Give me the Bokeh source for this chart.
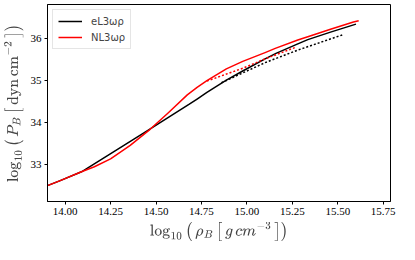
from bokeh.plotting import figure
from bokeh.embed import file_html
from bokeh.resources import INLINE
from bokeh.models import Range1d, FixedTicker, Legend, LegendItem, CustomJSTickFormatter

# eL3wp solid
el3_x = [13.903, 13.973, 14.09, 14.44, 14.681, 14.726, 14.78, 14.887, 14.977, 15.10, 15.16, 15.28, 15.335, 15.46, 15.60]
el3_y = [32.49, 32.61, 32.82, 33.77, 34.43, 34.56, 34.72, 35.01, 35.23, 35.52, 35.65, 35.88, 35.98, 36.16, 36.35]
# eL3wp dotted
el3d_x = [14.86, 15.10, 15.28, 15.53]
el3d_y = [34.95, 35.43, 35.73, 36.10]
# NL3wp solid
nl3_x = [13.903, 13.973, 14.09, 14.161, 14.25, 14.358, 14.44, 14.466, 14.565, 14.672, 14.726, 14.78, 14.887, 14.977, 15.10, 15.156, 15.28, 15.335, 15.46, 15.586, 15.615]
nl3_y = [32.49, 32.61, 32.82, 32.94, 33.13, 33.45, 33.74, 33.83, 34.22, 34.66, 34.84, 35.00, 35.28, 35.46, 35.67, 35.77, 35.97, 36.05, 36.23, 36.40, 36.43]
# NL3wp dotted
nl3d_x = [14.78, 14.98, 15.10, 15.27]
nl3d_y = [34.99, 35.30, 35.52, 35.80]

x_ticks = [14.00, 14.25, 14.50, 14.75, 15.00, 15.25, 15.50, 15.75]
y_ticks = [33, 34, 35, 36]

p = figure(width=399, height=244, output_backend="svg", toolbar_location=None,
           x_range=Range1d(13.903, 15.79), y_range=Range1d(32.11, 36.82),
           min_border_left=39, min_border_right=9, min_border_top=4, min_border_bottom=39)
p.xgrid.visible = False
p.ygrid.visible = False
p.outline_line_color = "black"
p.outline_line_width = 1
p.background_fill_color = "white"

r1 = p.line(el3_x, el3_y, line_color="black", line_width=1.5, line_join="round")
p.line(el3d_x, el3d_y, line_color="black", line_width=1.5, line_dash="2 2")
r2 = p.line(nl3_x, nl3_y, line_color="red", line_width=1.5, line_join="round")
p.line(nl3d_x, nl3d_y, line_color="red", line_width=1.5, line_dash="2 2")

p.xaxis.ticker = FixedTicker(ticks=x_ticks)
p.yaxis.ticker = FixedTicker(ticks=y_ticks)
p.xaxis.formatter = CustomJSTickFormatter(code="return tick.toFixed(2);")
p.yaxis.formatter = CustomJSTickFormatter(code="return tick.toFixed(0);")
for ax in (p.xaxis[0], p.yaxis[0]):
    ax.axis_line_color = "black"
    ax.major_tick_in = 0
    ax.major_tick_out = 3
    ax.minor_tick_line_color = None
    ax.major_tick_line_color = "black"
    ax.major_label_text_font = "Liberation Serif"
    ax.major_label_text_font_size = "11px"
    ax.major_label_text_color = "black"
    ax.major_label_standoff = 3
    ax.axis_label_text_font_size = "12px"
    ax.axis_label_text_font_style = "normal"
    ax.axis_label_standoff = 4

p.xaxis.axis_label = r"$$\log_{10}\left(\,\rho_B\left[\,g\,cm^{-3}\,\right]\right)$$"
p.yaxis.axis_label = r"$$\log_{10}\left(\,P_B\left[\,\mathrm{dyn\,cm^{-2}}\,\right]\right)$$"

legend = Legend(items=[LegendItem(label="eL3ωρ", renderers=[r1]),
                       LegendItem(label="NL3ωρ", renderers=[r2])],
                location="top_left")
legend.margin = 5
legend.padding = 5
legend.spacing = 4
legend.glyph_width = 24
legend.glyph_height = 12
legend.label_height = 12
legend.label_standoff = 9
legend.label_text_font = "DejaVu Sans"
legend.label_text_font_size = "10px"
legend.border_line_color = "#cccccc"
legend.background_fill_alpha = 0.8
p.add_layout(legend)

open("out.html", "w").write(file_html(p, INLINE))
